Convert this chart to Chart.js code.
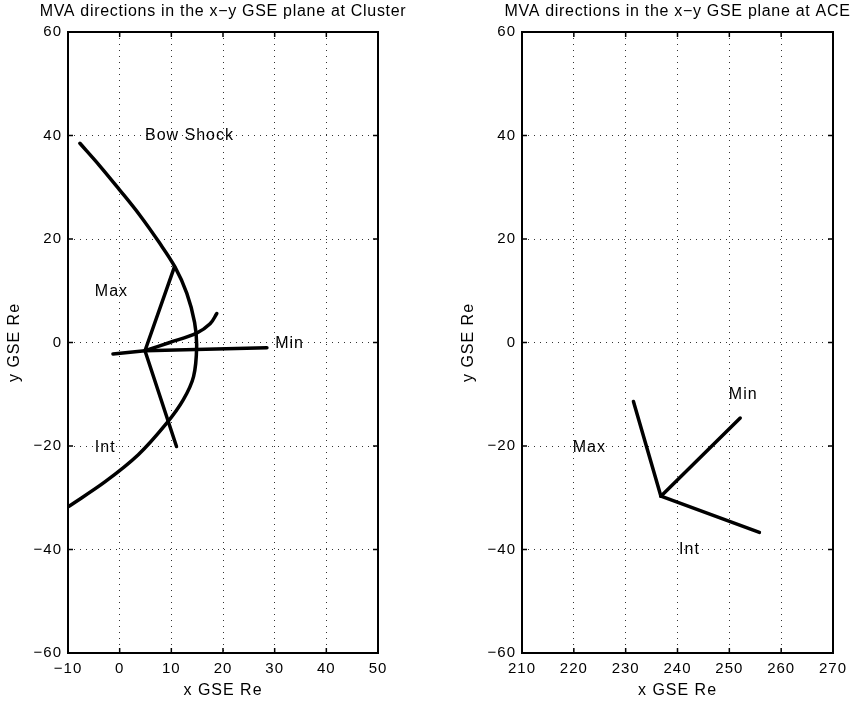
<!DOCTYPE html>
<html>
<head>
<meta charset="utf-8">
<script src="https://cdn.jsdelivr.net/npm/chart.js@4.4.0/dist/chart.umd.min.js"></script>
<style>
    body { margin: 0; background: #fff; }
    #wrap { position: relative; width: 856px; height: 702px; }
    canvas { position: absolute; top: 0; }
</style>
</head>
<body>
<div id="wrap">
    <canvas id="clusterChart" width="428" height="702" style="left:0"></canvas>
    <canvas id="aceChart" width="402" height="702" style="left:454px"></canvas>
</div>
<script>
// --- data (x, y in Re) ---
const clusterTitle = "MVA directions in the x\u2212y GSE plane at Cluster";
const aceTitle = "MVA directions in the x\u2212y GSE plane at ACE";

const clusterXTicks = [-10, 0, 10, 20, 30, 40, 50];
const aceXTicks = [210, 220, 230, 240, 250, 260, 270];
const yTicks = [-60, -40, -20, 0, 20, 40, 60];

const bowShockX = [-7.7, -3.9, -0.1, 3.9, 7.6, 10.7, 13.0, 14.5, 14.9, 14.3, 12.3, 9.1, 3.6, -2.8, -9.9];
const bowShockY = [38.5, 34.2, 29.6, 24.6, 19.4, 14.6, 9.5, 3.9, -0.8, -6.6, -11.1, -15.6, -21.7, -26.9, -31.7];

const clusterMaxX = [4.9, 10.6];
const clusterMaxY = [-1.6, 14.6];
const clusterIntX = [4.9, 11.0];
const clusterIntY = [-1.6, -20.1];
const clusterMinX = [-1.3, 4.9, 28.5];
const clusterMinY = [-2.2, -1.6, -1.0];
const clusterArcX = [4.9, 9.7, 14.9, 17.5, 18.8];
const clusterArcY = [-1.6, 0.0, 1.8, 3.6, 5.6];

const aceMaxX = [231.5, 236.8];
const aceMaxY = [-11.4, -29.7];
const aceMinX = [236.8, 252.1];
const aceMinY = [-29.7, -14.6];
const aceIntX = [236.8, 255.8];
const aceIntY = [-29.7, -36.7];

const clusterLabels = [
    { text: "Bow Shock", x: 4.9, y: 40 },
    { text: "Max", x: -4.8, y: 9.8 },
    { text: "Min", x: 30.1, y: -0.2 },
    { text: "Int", x: -4.8, y: -20.4 }
];
const aceLabels = [
    { text: "Max", x: 219.8, y: -20.4 },
    { text: "Min", x: 249.9, y: -10.1 },
    { text: "Int", x: 240.3, y: -40.1 }
];

const FONT = "'Liberation Sans', Arial, Helvetica, sans-serif";

function toPoints(xs, ys) {
    return xs.map((x, i) => ({ x: x, y: ys[i] }));
}

function lineSet(xs, ys, smooth) {
    return {
        data: toPoints(xs, ys),
        showLine: true,
        borderColor: "#000",
        borderWidth: 3.5,
        pointRadius: 0,
        tension: smooth ? 0.35 : 0,
        borderCapStyle: "round",
        borderJoinStyle: "round"
    };
}

function minusSign(v) {
    return String(v).replace("-", "\u2212");
}

// Wider letter spacing, like the scanned figure
const spacingPlugin = {
    id: "spacing",
    beforeLayout(chart) { chart.ctx.letterSpacing = "1px"; },
    beforeDraw(chart) { chart.ctx.letterSpacing = "1px"; }
};

// Frame, inward tick marks, title and text annotations
const framePlugin = {
    id: "frame",
    afterDraw(chart, args, opts) {
        const ctx = chart.ctx;
        const a = chart.chartArea;
        const xs = chart.scales.x;
        const ys = chart.scales.y;
        ctx.save();
        ctx.strokeStyle = "#000";
        ctx.lineWidth = 1.5;
        const tl = 5;
        ctx.beginPath();
        xs.ticks.forEach(t => {
            const px = xs.getPixelForValue(t.value);
            ctx.moveTo(px, a.bottom); ctx.lineTo(px, a.bottom - tl);
            ctx.moveTo(px, a.top); ctx.lineTo(px, a.top + tl);
        });
        ys.ticks.forEach(t => {
            const py = ys.getPixelForValue(t.value);
            ctx.moveTo(a.left, py); ctx.lineTo(a.left + tl, py);
            ctx.moveTo(a.right, py); ctx.lineTo(a.right - tl, py);
        });
        ctx.stroke();
        ctx.lineWidth = 2;
        ctx.strokeRect(a.left, a.top, a.right - a.left, a.bottom - a.top);

        ctx.fillStyle = "#000";
        ctx.letterSpacing = "0.7px";
        ctx.font = "16px " + FONT;
        ctx.textAlign = "center";
        ctx.textBaseline = "middle";
        ctx.fillText(opts.title, (a.left + a.right) / 2, 12);

        ctx.letterSpacing = "1px";
        ctx.font = "16px " + FONT;
        ctx.textAlign = "left";
        opts.labels.forEach(l => {
            ctx.fillText(l.text, xs.getPixelForValue(l.x), ys.getPixelForValue(l.y));
        });
        ctx.restore();
    }
};

function makeChart(canvasId, title, xMin, xMax, xTicks, datasets, labels, padRight) {
    const ctx = document.getElementById(canvasId).getContext("2d");
    return new Chart(ctx, {
        type: "scatter",
        data: { datasets: datasets },
        options: {
            responsive: false,
            animation: false,
            layout: { padding: { top: 32, right: padRight, left: 0, bottom: 0 } },
            plugins: {
                legend: { display: false },
                tooltip: { enabled: false },
                frame: { title: title, labels: labels }
            },
            scales: {
                x: {
                    type: "linear",
                    min: xMin,
                    max: xMax,
                    afterBuildTicks: s => { s.ticks = xTicks.map(v => ({ value: v })); },
                    afterFit: s => { s.height = 49; },
                    grid: { color: "#333", lineWidth: 1, drawTicks: false },
                    border: { display: false, dash: [1, 5] },
                    ticks: {
                        color: "#000",
                        padding: 7,
                        maxRotation: 0,
                        font: { family: FONT, size: 15 },
                        callback: v => minusSign(v)
                    },
                    title: {
                        display: true,
                        text: "x GSE Re",
                        color: "#000",
                        font: { family: FONT, size: 16 },
                        padding: { top: 0, bottom: 2 }
                    }
                },
                y: {
                    type: "linear",
                    min: -60,
                    max: 60,
                    afterBuildTicks: s => { s.ticks = yTicks.map(v => ({ value: v })); },
                    afterFit: s => { s.width = 68; },
                    grid: { color: "#333", lineWidth: 1, drawTicks: false },
                    border: { display: false, dash: [1, 5] },
                    ticks: {
                        color: "#000",
                        padding: 6,
                        font: { family: FONT, size: 15 },
                        callback: v => minusSign(v)
                    },
                    title: {
                        display: true,
                        text: "y GSE Re",
                        color: "#000",
                        font: { family: FONT, size: 16 },
                        padding: { top: 5, bottom: 0 }
                    }
                }
            }
        },
        plugins: [spacingPlugin, framePlugin]
    });
}

makeChart("clusterChart", clusterTitle, -10, 50, clusterXTicks, [
    lineSet(bowShockX, bowShockY, true),
    lineSet(clusterMaxX, clusterMaxY, false),
    lineSet(clusterIntX, clusterIntY, false),
    lineSet(clusterMinX, clusterMinY, false),
    lineSet(clusterArcX, clusterArcY, true)
], clusterLabels, 50);

makeChart("aceChart", aceTitle, 210, 270, aceXTicks, [
    lineSet(aceMaxX, aceMaxY, false),
    lineSet(aceMinX, aceMinY, false),
    lineSet(aceIntX, aceIntY, false)
], aceLabels, 23);
</script>
</body>
</html>
